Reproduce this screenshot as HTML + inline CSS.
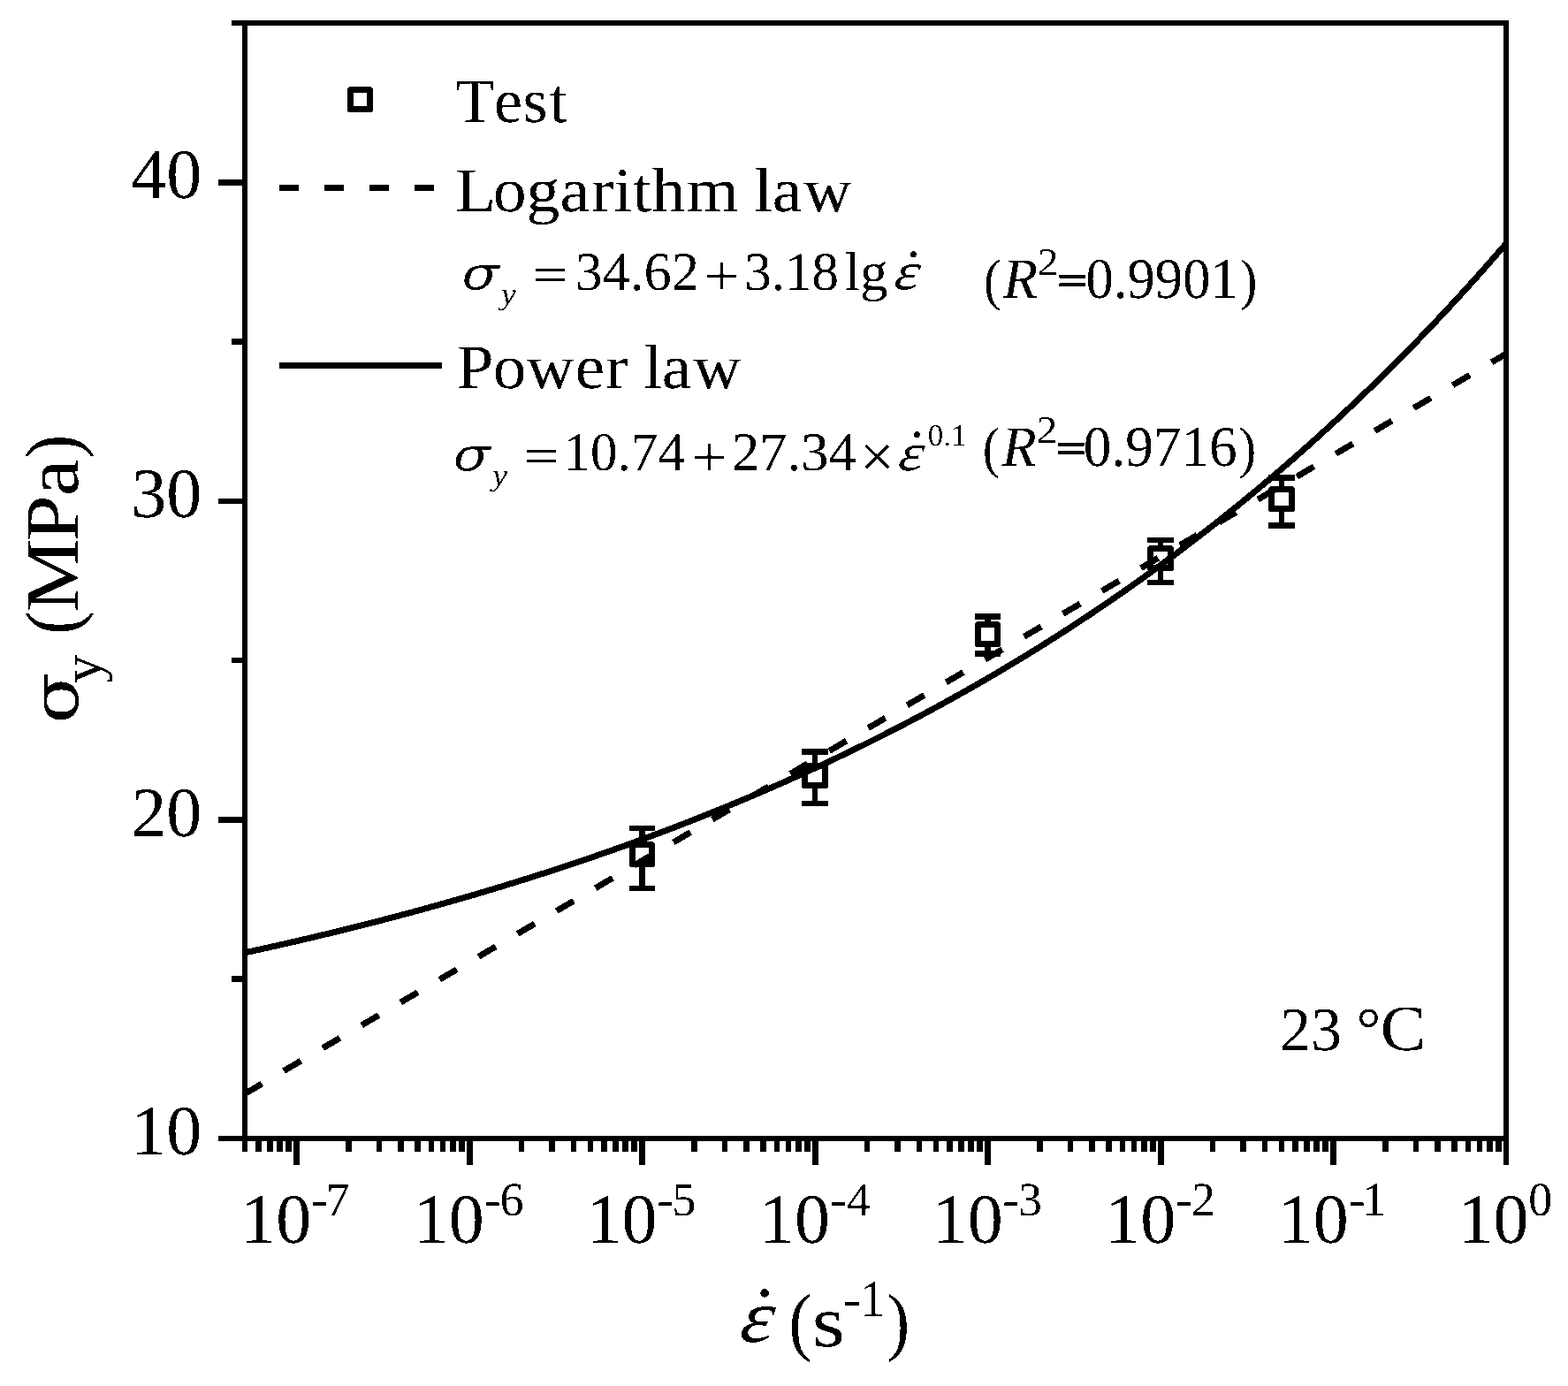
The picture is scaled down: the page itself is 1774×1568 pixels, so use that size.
<!DOCTYPE html>
<html lang="en">
<head>
<meta charset="utf-8">
<title>Yield stress versus strain rate at 23 °C</title>
<style>
html,body{margin:0;padding:0;background:#fff;overflow:hidden;}
svg{display:block;}
text{font-family:"Liberation Serif","DejaVu Serif",serif;font-kerning:none;font-variant-ligatures:none;text-rendering:geometricPrecision;fill:#000;white-space:pre;}
text.dj{font-family:"DejaVu Serif","Liberation Serif",serif;}
</style>
</head>
<body>
<svg width="1774" height="1568" viewBox="0 0 1774 1568">
<defs>
<filter id="thinx" x="-20%" y="-20%" width="140%" height="140%" filterUnits="objectBoundingBox" primitiveUnits="userSpaceOnUse"><feMorphology operator="erode" radius="0.82 0"/></filter>
<filter id="bw" x="0" y="0" width="1774" height="1568" filterUnits="userSpaceOnUse" color-interpolation-filters="sRGB"><feComponentTransfer><feFuncA type="discrete" tableValues="0 1"/></feComponentTransfer></filter>
</defs>
<rect width="1774" height="1568" fill="#fff"/>
<g id="curves" fill="none" stroke="#000" stroke-width="7" shape-rendering="crispEdges">
<path id="powerlaw" d="M277.00 1077.80 L280.57 1077.02 L284.13 1076.25 L287.70 1075.47 L291.27 1074.68 L294.84 1073.90 L298.40 1073.11 L301.97 1072.32 L305.54 1071.52 L309.11 1070.72 L312.67 1069.92 L316.24 1069.11 L319.81 1068.30 L323.38 1067.49 L326.94 1066.67 L330.51 1065.85 L334.08 1065.03 L337.65 1064.20 L341.21 1063.37 L344.78 1062.54 L348.35 1061.70 L351.92 1060.86 L355.48 1060.02 L359.05 1059.17 L362.62 1058.32 L366.19 1057.46 L369.75 1056.61 L373.32 1055.74 L376.89 1054.88 L380.46 1054.01 L384.02 1053.14 L387.59 1052.26 L391.16 1051.38 L394.73 1050.49 L398.29 1049.61 L401.86 1048.71 L405.43 1047.82 L409.00 1046.92 L412.57 1046.02 L416.13 1045.11 L419.70 1044.20 L423.27 1043.28 L426.83 1042.37 L430.40 1041.44 L433.97 1040.52 L437.54 1039.59 L441.10 1038.65 L444.67 1037.72 L448.24 1036.77 L451.81 1035.83 L455.38 1034.88 L458.94 1033.93 L462.51 1032.97 L466.08 1032.01 L469.64 1031.04 L473.21 1030.07 L476.78 1029.10 L480.35 1028.12 L483.91 1027.14 L487.48 1026.15 L491.05 1025.16 L494.62 1024.17 L498.18 1023.17 L501.75 1022.16 L505.32 1021.16 L508.89 1020.14 L512.45 1019.13 L516.02 1018.11 L519.59 1017.08 L523.16 1016.06 L526.72 1015.02 L530.29 1013.99 L533.86 1012.94 L537.43 1011.90 L540.99 1010.85 L544.56 1009.79 L548.13 1008.73 L551.70 1007.67 L555.27 1006.60 L558.83 1005.53 L562.40 1004.45 L565.97 1003.37 L569.53 1002.28 L573.10 1001.19 L576.67 1000.10 L580.24 999.00 L583.80 997.89 L587.37 996.78 L590.94 995.67 L594.51 994.55 L598.07 993.43 L601.64 992.30 L605.21 991.16 L608.78 990.03 L612.35 988.88 L615.91 987.74 L619.48 986.58 L623.05 985.43 L626.62 984.27 L630.18 983.10 L633.75 981.93 L637.32 980.75 L640.88 979.57 L644.45 978.38 L648.02 977.19 L651.59 975.99 L655.15 974.79 L658.72 973.58 L662.29 972.37 L665.86 971.16 L669.42 969.93 L672.99 968.71 L676.56 967.47 L680.13 966.24 L683.69 964.99 L687.26 963.75 L690.83 962.49 L694.40 961.23 L697.97 959.97 L701.53 958.70 L705.10 957.43 L708.67 956.15 L712.23 954.86 L715.80 953.57 L719.37 952.27 L722.94 950.97 L726.51 949.67 L730.07 948.35 L733.64 947.04 L737.21 945.71 L740.77 944.38 L744.34 943.05 L747.91 941.71 L751.48 940.36 L755.04 939.01 L758.61 937.65 L762.18 936.29 L765.75 934.92 L769.32 933.55 L772.88 932.16 L776.45 930.78 L780.02 929.39 L783.58 927.99 L787.15 926.58 L790.72 925.17 L794.29 923.76 L797.85 922.34 L801.42 920.91 L804.99 919.48 L808.56 918.04 L812.12 916.59 L815.69 915.14 L819.26 913.68 L822.83 912.22 L826.39 910.75 L829.96 909.27 L833.53 907.79 L837.10 906.30 L840.66 904.80 L844.23 903.30 L847.80 901.79 L851.37 900.28 L854.93 898.76 L858.50 897.23 L862.07 895.70 L865.64 894.16 L869.21 892.61 L872.77 891.06 L876.34 889.50 L879.91 887.93 L883.47 886.36 L887.04 884.78 L890.61 883.20 L894.18 881.60 L897.75 880.00 L901.31 878.40 L904.88 876.79 L908.45 875.17 L912.01 873.54 L915.58 871.91 L919.15 870.27 L922.72 868.62 L926.28 866.97 L929.85 865.31 L933.42 863.64 L936.99 861.96 L940.55 860.28 L944.12 858.59 L947.69 856.90 L951.26 855.19 L954.82 853.48 L958.39 851.76 L961.96 850.04 L965.53 848.31 L969.09 846.57 L972.66 844.82 L976.23 843.07 L979.80 841.30 L983.37 839.54 L986.93 837.76 L990.50 835.98 L994.07 834.18 L997.63 832.39 L1001.20 830.58 L1004.77 828.76 L1008.34 826.94 L1011.90 825.11 L1015.47 823.28 L1019.04 821.43 L1022.61 819.58 L1026.17 817.72 L1029.74 815.85 L1033.31 813.97 L1036.88 812.09 L1040.44 810.20 L1044.01 808.30 L1047.58 806.39 L1051.15 804.47 L1054.71 802.55 L1058.28 800.62 L1061.85 798.68 L1065.42 796.73 L1068.99 794.77 L1072.55 792.81 L1076.12 790.83 L1079.69 788.85 L1083.25 786.86 L1086.82 784.86 L1090.39 782.86 L1093.96 780.84 L1097.53 778.82 L1101.09 776.79 L1104.66 774.75 L1108.23 772.70 L1111.80 770.64 L1115.36 768.57 L1118.93 766.50 L1122.50 764.41 L1126.07 762.32 L1129.63 760.22 L1133.20 758.11 L1136.77 755.99 L1140.34 753.86 L1143.90 751.72 L1147.47 749.58 L1151.04 747.42 L1154.61 745.26 L1158.17 743.08 L1161.74 740.90 L1165.31 738.71 L1168.88 736.51 L1172.44 734.30 L1176.01 732.08 L1179.58 729.85 L1183.14 727.61 L1186.71 725.36 L1190.28 723.11 L1193.85 720.84 L1197.41 718.56 L1200.98 716.28 L1204.55 713.98 L1208.12 711.68 L1211.68 709.36 L1215.25 707.04 L1218.82 704.70 L1222.39 702.36 L1225.95 700.00 L1229.52 697.64 L1233.09 695.27 L1236.66 692.88 L1240.22 690.49 L1243.79 688.08 L1247.36 685.67 L1250.93 683.25 L1254.49 680.81 L1258.06 678.37 L1261.63 675.91 L1265.20 673.45 L1268.77 670.97 L1272.33 668.48 L1275.90 665.99 L1279.47 663.48 L1283.03 660.96 L1286.60 658.43 L1290.17 655.89 L1293.74 653.34 L1297.30 650.78 L1300.87 648.21 L1304.44 645.63 L1308.01 643.04 L1311.58 640.43 L1315.14 637.82 L1318.71 635.19 L1322.28 632.55 L1325.85 629.91 L1329.41 627.25 L1332.98 624.58 L1336.55 621.89 L1340.11 619.20 L1343.68 616.50 L1347.25 613.78 L1350.82 611.05 L1354.38 608.32 L1357.95 605.57 L1361.52 602.80 L1365.09 600.03 L1368.66 597.25 L1372.22 594.45 L1375.79 591.64 L1379.36 588.82 L1382.92 585.99 L1386.49 583.14 L1390.06 580.29 L1393.63 577.42 L1397.19 574.54 L1400.76 571.65 L1404.33 568.74 L1407.90 565.82 L1411.46 562.89 L1415.03 559.95 L1418.60 557.00 L1422.17 554.03 L1425.74 551.05 L1429.30 548.06 L1432.87 545.06 L1436.44 542.04 L1440.00 539.01 L1443.57 535.97 L1447.14 532.92 L1450.71 529.85 L1454.28 526.77 L1457.84 523.67 L1461.41 520.57 L1464.98 517.45 L1468.54 514.31 L1472.11 511.17 L1475.68 508.01 L1479.25 504.84 L1482.82 501.65 L1486.38 498.45 L1489.95 495.24 L1493.52 492.01 L1497.09 488.77 L1500.65 485.52 L1504.22 482.25 L1507.79 478.97 L1511.36 475.67 L1514.92 472.36 L1518.49 469.04 L1522.06 465.71 L1525.62 462.35 L1529.19 458.99 L1532.76 455.61 L1536.33 452.22 L1539.89 448.81 L1543.46 445.39 L1547.03 441.95 L1550.60 438.50 L1554.16 435.03 L1557.73 431.55 L1561.30 428.06 L1564.87 424.55 L1568.43 421.03 L1572.00 417.49 L1575.57 413.93 L1579.14 410.36 L1582.70 406.78 L1586.27 403.18 L1589.84 399.57 L1593.41 395.94 L1596.97 392.29 L1600.54 388.63 L1604.11 384.96 L1607.68 381.27 L1611.25 377.56 L1614.81 373.84 L1618.38 370.10 L1621.95 366.35 L1625.51 362.58 L1629.08 358.79 L1632.65 354.99 L1636.22 351.17 L1639.78 347.34 L1643.35 343.49 L1646.92 339.63 L1650.49 335.74 L1654.06 331.85 L1657.62 327.93 L1661.19 324.00 L1664.76 320.05 L1668.33 316.09 L1671.89 312.11 L1675.46 308.11 L1679.03 304.09 L1682.60 300.06 L1686.16 296.01 L1689.73 291.95 L1693.30 287.87 L1696.87 283.77 L1700.43 279.65 L1704.00 275.52"/>
<path id="loglaw" d="M277.00 1237.42 L1704.00 400.27" stroke-dasharray="22.4 28.71"/>
</g>
<g id="axes" fill="#000" shape-rendering="crispEdges">
<rect x="274" y="23" width="1433" height="6"/>
<rect x="274" y="1285" width="1433" height="6"/>
<rect x="274" y="23" width="6" height="1268"/>
<rect x="1701" y="23" width="6" height="1268"/>
<rect x="262" y="1104" width="15" height="7"/>
<rect x="247" y="924" width="30" height="7"/>
<rect x="262" y="744" width="15" height="6"/>
<rect x="247" y="564" width="30" height="6"/>
<rect x="262" y="383" width="15" height="7"/>
<rect x="247" y="203" width="30" height="7"/>
<rect x="262" y="23" width="15" height="6"/>
<rect x="247" y="1285" width="30" height="6"/>
<rect x="274" y="1288" width="6" height="15"/>
<rect x="289" y="1288" width="7" height="15"/>
<rect x="302" y="1288" width="7" height="15"/>
<rect x="313" y="1288" width="7" height="15"/>
<rect x="323" y="1288" width="7" height="15"/>
<rect x="332" y="1288" width="7" height="30"/>
<rect x="391" y="1288" width="7" height="15"/>
<rect x="426" y="1288" width="6" height="15"/>
<rect x="450" y="1288" width="7" height="15"/>
<rect x="469" y="1288" width="7" height="15"/>
<rect x="485" y="1288" width="6" height="15"/>
<rect x="498" y="1288" width="6" height="15"/>
<rect x="509" y="1288" width="7" height="15"/>
<rect x="519" y="1288" width="7" height="15"/>
<rect x="528" y="1288" width="7" height="30"/>
<rect x="587" y="1288" width="6" height="15"/>
<rect x="621" y="1288" width="7" height="15"/>
<rect x="646" y="1288" width="6" height="15"/>
<rect x="665" y="1288" width="6" height="15"/>
<rect x="680" y="1288" width="7" height="15"/>
<rect x="693" y="1288" width="7" height="15"/>
<rect x="704" y="1288" width="7" height="15"/>
<rect x="714" y="1288" width="7" height="15"/>
<rect x="723" y="1288" width="7" height="30"/>
<rect x="782" y="1288" width="7" height="15"/>
<rect x="817" y="1288" width="6" height="15"/>
<rect x="841" y="1288" width="7" height="15"/>
<rect x="860" y="1288" width="7" height="15"/>
<rect x="876" y="1288" width="6" height="15"/>
<rect x="889" y="1288" width="6" height="15"/>
<rect x="900" y="1288" width="7" height="15"/>
<rect x="910" y="1288" width="7" height="15"/>
<rect x="919" y="1288" width="7" height="30"/>
<rect x="978" y="1288" width="6" height="15"/>
<rect x="1012" y="1288" width="7" height="15"/>
<rect x="1037" y="1288" width="6" height="15"/>
<rect x="1056" y="1288" width="6" height="15"/>
<rect x="1071" y="1288" width="7" height="15"/>
<rect x="1084" y="1288" width="7" height="15"/>
<rect x="1095" y="1288" width="7" height="15"/>
<rect x="1105" y="1288" width="7" height="15"/>
<rect x="1114" y="1288" width="7" height="30"/>
<rect x="1173" y="1288" width="7" height="15"/>
<rect x="1208" y="1288" width="6" height="15"/>
<rect x="1232" y="1288" width="7" height="15"/>
<rect x="1251" y="1288" width="7" height="15"/>
<rect x="1267" y="1288" width="6" height="15"/>
<rect x="1280" y="1288" width="6" height="15"/>
<rect x="1291" y="1288" width="7" height="15"/>
<rect x="1301" y="1288" width="7" height="15"/>
<rect x="1310" y="1288" width="7" height="30"/>
<rect x="1369" y="1288" width="6" height="15"/>
<rect x="1403" y="1288" width="7" height="15"/>
<rect x="1428" y="1288" width="6" height="15"/>
<rect x="1447" y="1288" width="6" height="15"/>
<rect x="1462" y="1288" width="7" height="15"/>
<rect x="1475" y="1288" width="7" height="15"/>
<rect x="1486" y="1288" width="7" height="15"/>
<rect x="1496" y="1288" width="7" height="15"/>
<rect x="1505" y="1288" width="7" height="30"/>
<rect x="1564" y="1288" width="7" height="15"/>
<rect x="1599" y="1288" width="6" height="15"/>
<rect x="1623" y="1288" width="7" height="15"/>
<rect x="1642" y="1288" width="7" height="15"/>
<rect x="1658" y="1288" width="6" height="15"/>
<rect x="1671" y="1288" width="6" height="15"/>
<rect x="1682" y="1288" width="7" height="15"/>
<rect x="1692" y="1288" width="7" height="15"/>
<rect x="1701" y="1288" width="6" height="30"/>
</g>
<g id="errorbars" fill="#000" shape-rendering="crispEdges">
<rect x="712" y="934" width="29" height="6"/>
<rect x="712" y="1002" width="29" height="6"/>
<rect x="723" y="934" width="7" height="21"/>
<rect x="723" y="978" width="7" height="30"/>
<rect x="907" y="847" width="30" height="7"/>
<rect x="907" y="906" width="30" height="6"/>
<rect x="919" y="847" width="6" height="19"/>
<rect x="919" y="889" width="6" height="23"/>
<rect x="1103" y="694" width="29" height="7"/>
<rect x="1103" y="736" width="29" height="7"/>
<rect x="1114" y="694" width="7" height="12"/>
<rect x="1114" y="729" width="7" height="14"/>
<rect x="1298" y="608" width="30" height="6"/>
<rect x="1298" y="656" width="30" height="6"/>
<rect x="1310" y="608" width="6" height="12"/>
<rect x="1310" y="643" width="6" height="19"/>
<rect x="1435" y="537" width="30" height="7"/>
<rect x="1435" y="591" width="30" height="7"/>
<rect x="1447" y="537" width="6" height="16"/>
<rect x="1447" y="576" width="6" height="22"/>
</g>
<g id="data" fill="none" stroke="#000" stroke-width="7" stroke-linejoin="round" shape-rendering="crispEdges">
<rect x="715.5" y="955.5" width="22" height="22"/>
<rect x="910.5" y="866.5" width="23" height="22"/>
<rect x="1106.5" y="706.5" width="22" height="22"/>
<rect x="1301.5" y="620.5" width="23" height="22"/>
<rect x="1438.5" y="553.5" width="23" height="22"/>
</g>
<g id="legend" fill="none" stroke="#000" stroke-width="7" shape-rendering="crispEdges">
<rect x="396.5" y="101.5" width="22" height="22" stroke-linejoin="round"/>
<path d="M316 212.5H500" stroke-dasharray="22 29"/>
<path d="M316 413.5H500"/>
</g>
<g id="labels" filter="url(#bw)" aria-label="Yield stress versus strain rate: test data with logarithm-law and power-law fits">
<text transform="matrix(1.0000 0 -0.0000 1.0000 148.25 1306.20)" font-size="80">10</text>
<text transform="matrix(1.0000 0 -0.0000 1.0000 148.25 945.63)" font-size="80">20</text>
<text transform="matrix(1.0000 0 -0.0000 1.0000 148.25 585.06)" font-size="80">30</text>
<text transform="matrix(1.0000 0 -0.0000 1.0000 148.25 224.49)" font-size="80">40</text>
<g role="img" aria-label="10^-7"><text transform="matrix(1.0000 0 -0.0000 1.0000 272.27 1406.00)" font-size="80">10</text><text transform="matrix(1.0693 0 -0.0000 1.0000 351.96 1374.70)" font-size="54">-</text><text transform="matrix(1.0000 0 -0.0000 1.0000 368.74 1374.70)" font-size="54">7</text></g>
<g role="img" aria-label="10^-6"><text transform="matrix(1.0000 0 -0.0000 1.0000 467.87 1406.00)" font-size="80">10</text><text transform="matrix(1.0693 0 -0.0000 1.0000 547.56 1374.70)" font-size="54">-</text><text transform="matrix(1.0000 0 -0.0000 1.0000 565.58 1374.70)" font-size="54">6</text></g>
<g role="img" aria-label="10^-5"><text transform="matrix(1.0000 0 -0.0000 1.0000 663.47 1406.00)" font-size="80">10</text><text transform="matrix(1.0693 0 -0.0000 1.0000 743.16 1374.70)" font-size="54">-</text><text transform="matrix(1.0000 0 -0.0000 1.0000 760.36 1374.70)" font-size="54">5</text></g>
<g role="img" aria-label="10^-4"><text transform="matrix(1.0000 0 -0.0000 1.0000 859.07 1406.00)" font-size="80">10</text><text transform="matrix(1.0693 0 -0.0000 1.0000 938.76 1374.70)" font-size="54">-</text><text transform="matrix(1.0000 0 -0.0000 1.0000 958.05 1374.70)" font-size="54">4</text></g>
<g role="img" aria-label="10^-3"><text transform="matrix(1.0000 0 -0.0000 1.0000 1054.67 1406.00)" font-size="80">10</text><text transform="matrix(1.0693 0 -0.0000 1.0000 1134.36 1374.70)" font-size="54">-</text><text transform="matrix(1.0000 0 -0.0000 1.0000 1152.12 1374.70)" font-size="54">3</text></g>
<g role="img" aria-label="10^-2"><text transform="matrix(1.0000 0 -0.0000 1.0000 1250.27 1406.00)" font-size="80">10</text><text transform="matrix(1.0693 0 -0.0000 1.0000 1329.96 1374.70)" font-size="54">-</text><text transform="matrix(1.0000 0 -0.0000 1.0000 1347.93 1374.70)" font-size="54">2</text></g>
<g role="img" aria-label="10^-1"><text transform="matrix(1.0000 0 -0.0000 1.0000 1445.87 1406.00)" font-size="80">10</text><text transform="matrix(1.0693 0 -0.0000 1.0000 1525.56 1374.70)" font-size="54">-</text><text transform="matrix(1.0000 0 -0.0000 1.0000 1541.15 1374.70)" font-size="54">1</text></g>
<g role="img" aria-label="10^0"><text transform="matrix(1.0000 0 -0.0000 1.0000 1649.47 1406.00)" font-size="80">10</text><text transform="matrix(1.0000 0 -0.0000 1.0000 1729.34 1374.70)" font-size="54">0</text></g>
<text transform="matrix(1.0180 0 0 1.0000 0 138.10)" x="506.16 549.01 581.15 610.72" y="0" font-size="71">Test</text>
<text transform="matrix(1.0667 0 0 1.0000 0 238.90)" x="482.90 522.94 558.28 593.92 627.10 650.95 671.17 691.48 728.18 783.41 799.70 819.11 852.11" y="0" font-size="71">Logarithm law</text>
<text transform="matrix(1.0599 0 0 1.0000 0 438.70)" x="487.66 526.19 561.93 613.99 646.69 670.34 687.07 706.55 739.97" y="0" font-size="71">Power law</text>
<g role="img" aria-label="sigma_y = 34.62 + 3.18 lg(strain rate)"><text transform="matrix(1.2509 0 -0.0000 1.0159 522.28 326.87)" font-size="50" class="dj" font-style="italic" stroke="#000" stroke-width="1" stroke-linejoin="round" filter="url(#thinx)">σ</text><text transform="matrix(1.0718 0 -0.0000 0.9823 567.03 343.78)" font-size="35" font-style="italic">y</text><text transform="matrix(1.1580 0 -0.0000 0.9256 602.34 330.04)" font-size="61.8">=</text><text transform="matrix(1.0092 0 -0.0000 1.0000 650.62 327.60)" font-size="61.8">34.62</text><text transform="matrix(1.1580 0 -0.0000 1.0630 796.44 333.71)" font-size="61.8">+</text><text transform="matrix(0.9870 0 -0.0000 1.0000 842.18 327.60)" font-size="61.8">3.18</text><text transform="matrix(1.0185 0 -0.0000 1.0000 955.44 327.60)" font-size="61.8">lg</text><text transform="matrix(1.2201 0 -0.1220 0.9534 1009.75 327.14)" font-size="61.8" font-style="italic" stroke="#000" stroke-width="0.8" stroke-linejoin="round" filter="url(#thinx)">ε</text><text transform="matrix(0.7722 0 -0.0000 0.7722 1022.10 329.39)" font-size="88">˙</text></g>
<g role="img" aria-label="sigma_y = 10.74 + 27.34 x (strain rate)^0.1"><text transform="matrix(1.2509 0 -0.0000 1.0159 512.38 531.67)" font-size="50" class="dj" font-style="italic" stroke="#000" stroke-width="1" stroke-linejoin="round" filter="url(#thinx)">σ</text><text transform="matrix(1.0718 0 -0.0000 0.9823 557.13 548.58)" font-size="35" font-style="italic">y</text><text transform="matrix(1.1580 0 -0.0000 0.9256 592.44 534.84)" font-size="61.8">=</text><text transform="matrix(0.9883 0 -0.0000 1.0000 637.53 532.40)" font-size="61.8">10.74</text><text transform="matrix(1.1684 0 -0.0000 1.0630 782.10 538.51)" font-size="61.8">+</text><text transform="matrix(1.0121 0 -0.0000 1.0000 828.05 532.40)" font-size="61.8">27.34</text><text transform="matrix(1.1060 0 -0.0000 1.0887 972.99 538.77)" font-size="61.8">×</text><text transform="matrix(1.2085 0 -0.1209 0.9501 1014.47 531.75)" font-size="61.8" font-style="italic" stroke="#000" stroke-width="0.8" stroke-linejoin="round" filter="url(#thinx)">ε</text><text transform="matrix(0.7722 0 -0.0000 0.7722 1026.00 533.19)" font-size="88">˙</text><text transform="matrix(0.9971 0 -0.0000 0.9886 1049.87 503.71)" font-size="35">0.1</text></g>
<g role="img" aria-label="R squared = 0.9901"><text transform="matrix(0.8985 0 -0.0000 0.9943 1113.03 337.94)" font-size="65">(</text><text transform="matrix(0.9878 0 -0.0000 1.0000 1134.74 336.90)" font-size="65" font-style="italic">R</text><text transform="matrix(1.0828 0 -0.0000 0.9989 1173.81 310.90)" font-size="44">2</text><text transform="matrix(0.9303 0 -0.0000 0.7178 1195.92 333.14)" font-size="65" stroke="#000" stroke-width="2" stroke-linejoin="round">=</text><text transform="matrix(0.9630 0 -0.0000 1.0000 1228.62 336.90)" font-size="65">0.9901</text><text transform="matrix(0.9105 0 -0.0000 0.9943 1402.79 337.94)" font-size="65">)</text></g>
<g role="img" aria-label="R squared = 0.9716"><text transform="matrix(0.8985 0 -0.0000 0.9943 1111.83 527.54)" font-size="65">(</text><text transform="matrix(0.9878 0 -0.0000 1.0000 1133.54 526.50)" font-size="65" font-style="italic">R</text><text transform="matrix(1.0828 0 -0.0000 0.9989 1172.61 500.50)" font-size="44">2</text><text transform="matrix(0.9303 0 -0.0000 0.7178 1194.72 522.74)" font-size="65" stroke="#000" stroke-width="2" stroke-linejoin="round">=</text><text transform="matrix(0.9734 0 -0.0000 1.0000 1225.69 526.50)" font-size="65">0.9716</text><text transform="matrix(0.9105 0 -0.0000 0.9943 1401.59 527.54)" font-size="65">)</text></g>
<g role="img" aria-label="23 degrees Celsius"><text transform="matrix(1.0002 0 -0.0000 1.0000 1447.92 1188.00)" font-size="70">23 </text><text transform="matrix(0.9941 0 -0.0000 0.9799 1534.47 1186.62)" font-size="70">°</text><text transform="matrix(1.1012 0 -0.0000 1.0482 1561.84 1188.38)" font-size="70">C</text></g>
<g role="img" aria-label="strain rate (s^-1)"><text transform="matrix(1.1275 0 -0.1128 0.9507 835.05 1517.70)" font-size="88" font-style="italic" stroke="#000" stroke-width="0.8" stroke-linejoin="round" filter="url(#thinx)">ε</text><text transform="matrix(1.0403 0 -0.0000 1.0296 849.70 1517.59)" font-size="88">˙</text><text transform="matrix(0.8861 0 -0.0000 0.9837 892.61 1523.38)" font-size="87">(</text><text transform="matrix(1.1052 0 -0.0000 0.9440 918.46 1523.20)" font-size="87">s</text><text transform="matrix(1.0421 0 -0.0000 0.9462 953.86 1488.28)" font-size="58">-</text><text transform="matrix(0.9697 0 -0.0000 1.0160 973.16 1488.90)" font-size="58">1</text><text transform="matrix(0.8861 0 -0.0000 0.9837 1003.42 1523.38)" font-size="87">)</text></g>
<g transform="rotate(-90)" role="img" aria-label="sigma_y (MPa)"><text transform="matrix(1.2261 0 -0.0000 1.0503 -818.87 88.16)" font-size="70" class="dj">σ</text><text transform="matrix(1.2280 0 -0.0000 1.2083 -772.68 113.54)" font-size="52">y </text><text transform="matrix(0.9264 0 -0.0000 0.9862 -717.74 88.43)" font-size="87">(</text><text transform="matrix(1.0734 0 0 0.9900 0 88.00)" x="-644.97 -570.35 -522.91" y="0" font-size="87">MPa</text><text transform="matrix(0.9264 0 -0.0000 0.9862 -518.60 88.43)" font-size="87">)</text></g>
</g>
</svg>
</body>
</html>
